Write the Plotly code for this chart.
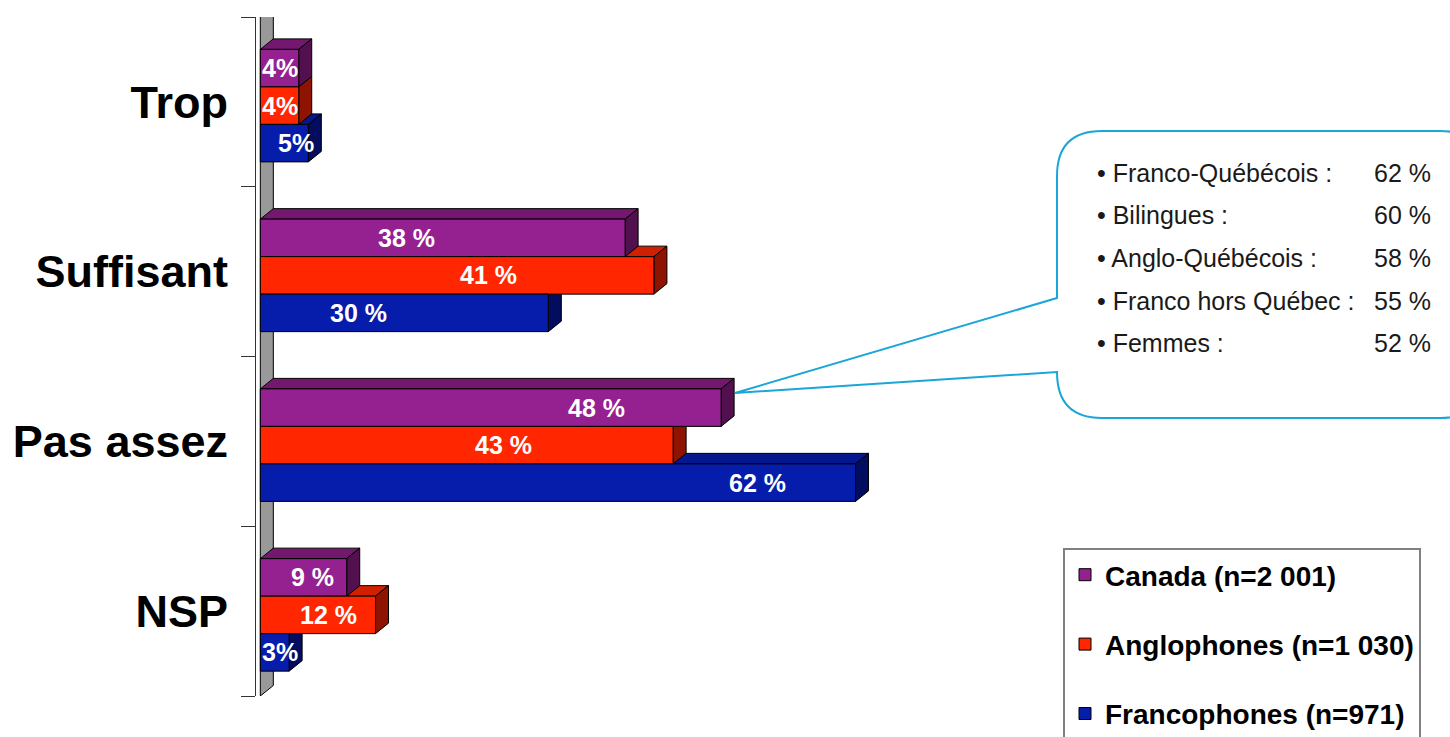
import plotly.graph_objects as go

# ---------------- data ----------------
categories = ["Trop", "Suffisant", "Pas assez", "NSP"]
series_names = ["Canada (n=2 001)", "Anglophones (n=1 030)", "Francophones (n=971)"]
canada = [4, 38, 48, 9]
anglophones = [4, 41, 43, 12]
francophones = [5, 30, 62, 3]
canada_text = ["4%", "38 %", "48 %", "9 %"]
anglophones_text = ["4%", "41 %", "43 %", "12 %"]
francophones_text = ["5%", "30 %", "62 %", "3%"]
callout_labels = ["Franco-Québécois :", "Bilingues :", "Anglo-Québécois :",
                  "Franco hors Québec :", "Femmes :"]
callout_values = [62, 60, 58, 55, 52]

# ---------------- layout / style ----------------
W, H = 1450, 737
L, T, B = 256, 17, 41
PW = 768
R = W - L - PW
PH = H - T - B
PX_PER_UNIT = 9.6
XMIN = -0.45
XMAX = XMIN + PW / PX_PER_UNIT
UNIT_Y = PH / 4.0

BW = 37.5 / UNIT_Y                 # bar thickness (category units)
OFFSETS = [-52.5 / UNIT_Y, -15 / UNIT_Y, 22.5 / UNIT_Y]
DX = 13 / PX_PER_UNIT              # 3D depth, x
DY = 10.5 / UNIT_Y                 # 3D depth, y

FRONT = ["#952191", "#FF2600", "#061CAA"]
TOP = ["#74176F", "#D02000", "#04178F"]
SIDE = ["#52104F", "#8E1300", "#030D60"]

# label centre as a fraction of each bar's length (label placement style)
LABEL_FRAC = [
    [0.52, 0.40, 0.73, 0.60],
    [0.52, 0.58, 0.59, 0.59],
    [0.75, 0.34, 0.835, 0.69],
]

FONT = "Liberation Sans, Arial, sans-serif"
CYAN = "#1AA6D8"

series_values = [canada, anglophones, francophones]
series_text = [canada_text, anglophones_text, francophones_text]
ypos = list(range(len(categories)))

fig = go.Figure()

for s, (name, vals) in enumerate(zip(series_names, series_values)):
    fig.add_trace(go.Bar(
        y=ypos, x=vals, orientation="h", name=name,
        width=BW, offset=OFFSETS[s], base=0,
        marker=dict(color=FRONT[s], line=dict(color="#000000", width=1)),
        legendgroup=name, hoverinfo="x+name",
    ))

shapes = []
# back wall
shapes.append(dict(
    type="path", xref="x", yref="y", layer="below",
    path=f"M 0,{-0.5} L 0,{3.5} L {DX},{3.5 - DY} L {DX},{-0.5 - DY} Z",
    fillcolor="#999999", line=dict(color="#000000", width=1),
))
# 3D top and side faces, drawn back (lower bars) to front
for s in [2, 1, 0]:
    vals = series_values[s]
    for i, v in enumerate(vals):
        y0 = i + OFFSETS[s]
        y1 = y0 + BW
        shapes.append(dict(
            type="path", xref="x", yref="y", layer="below",
            path=f"M 0,{y0} L {v},{y0} L {v + DX},{y0 - DY} L {DX},{y0 - DY} Z",
            fillcolor=TOP[s], line=dict(color="#000000", width=1),
        ))
        shapes.append(dict(
            type="path", xref="x", yref="y", layer="below",
            path=f"M {v},{y0} L {v},{y1} L {v + DX},{y1 - DY} L {v + DX},{y0 - DY} Z",
            fillcolor=SIDE[s], line=dict(color="#000000", width=1),
        ))


def px(x, y):
    return (x - L) / PW, (T + PH - y) / PH


# callout bubble (pixel layout converted to paper coordinates)
pts = [("M", [(1057, 298)]), ("L", [(735, 393)]), ("L", [(1057, 372)]),
       ("Q", [(1057, 418), (1102, 418)]), ("L", [(1440, 418)]),
       ("Q", [(1485, 418), (1485, 373)]), ("L", [(1485, 176)]),
       ("Q", [(1485, 131), (1440, 131)]), ("L", [(1102, 131)]),
       ("Q", [(1057, 131), (1057, 176)]), ("L", [(1057, 298)])]
path = ""
for cmd, ps in pts:
    path += cmd + " " + " ".join("%.5f,%.5f" % px(*p) for p in ps) + " "
path += "Z"
shapes.append(dict(type="path", xref="paper", yref="paper", layer="above",
                   path=path, fillcolor="rgba(255,255,255,0)",
                   line=dict(color=CYAN, width=2)))

annotations = []
for s in range(3):
    for i, v in enumerate(series_values[s]):
        annotations.append(dict(
            x=v * LABEL_FRAC[s][i], y=i + OFFSETS[s] + BW / 2,
            xref="x", yref="y", text=series_text[s][i], showarrow=False,
            font=dict(family=FONT, size=25, color="#FFFFFF", weight="bold"),
            xanchor="center", yanchor="middle",
        ))

for k, (lab, val) in enumerate(zip(callout_labels, callout_values)):
    yy = 173 + k * 42.5
    xa, ya = px(1095, yy)
    annotations.append(dict(x=xa, y=ya, xref="paper", yref="paper",
                            text="• " + lab, showarrow=False,
                            xanchor="left", yanchor="middle",
                            font=dict(family=FONT, size=25, color="#1A1A1A")))
    xb, yb = px(1433, yy)
    annotations.append(dict(x=xb, y=yb, xref="paper", yref="paper",
                            text=f"{val} %", showarrow=False,
                            xanchor="right", yanchor="middle",
                            font=dict(family=FONT, size=25, color="#1A1A1A")))

fig.update_layout(
    width=W, height=H,
    margin=dict(l=L, r=R, t=T, b=B, autoexpand=False),
    paper_bgcolor="#FFFFFF", plot_bgcolor="#FFFFFF",
    barmode="overlay",
    shapes=shapes, annotations=annotations,
    showlegend=True,
    legend=dict(
        xref="container", yref="container",
        x=1063 / W, y=1 - 548 / H, xanchor="left", yanchor="top",
        bgcolor="#FFFFFF", bordercolor="#808080", borderwidth=2,
        font=dict(family=FONT, size=28, color="#000000", weight="bold"),
        tracegroupgap=30, traceorder="grouped",
    ),
    xaxis=dict(range=[XMIN, XMAX], visible=False, showgrid=False, zeroline=False),
    yaxis=dict(
        range=[3.5, -0.5], tickmode="array", tickvals=ypos, ticktext=categories,
        ticks="", showline=True, linecolor="#333333", linewidth=1,
        showgrid=False, zeroline=False, ticklabelstandoff=18,
        tickfont=dict(family=FONT, size=45, color="#000000", weight="bold"),
        minor=dict(tickmode="array", tickvals=[-0.5, 0.5, 1.5, 2.5, 3.5],
                   ticks="outside", ticklen=14, tickcolor="#333333", tickwidth=1,
                   showgrid=False),
    ),
)

fig.write_html("out.html", config={"displayModeBar": False},
               post_script="document.body.style.margin='0px';")
